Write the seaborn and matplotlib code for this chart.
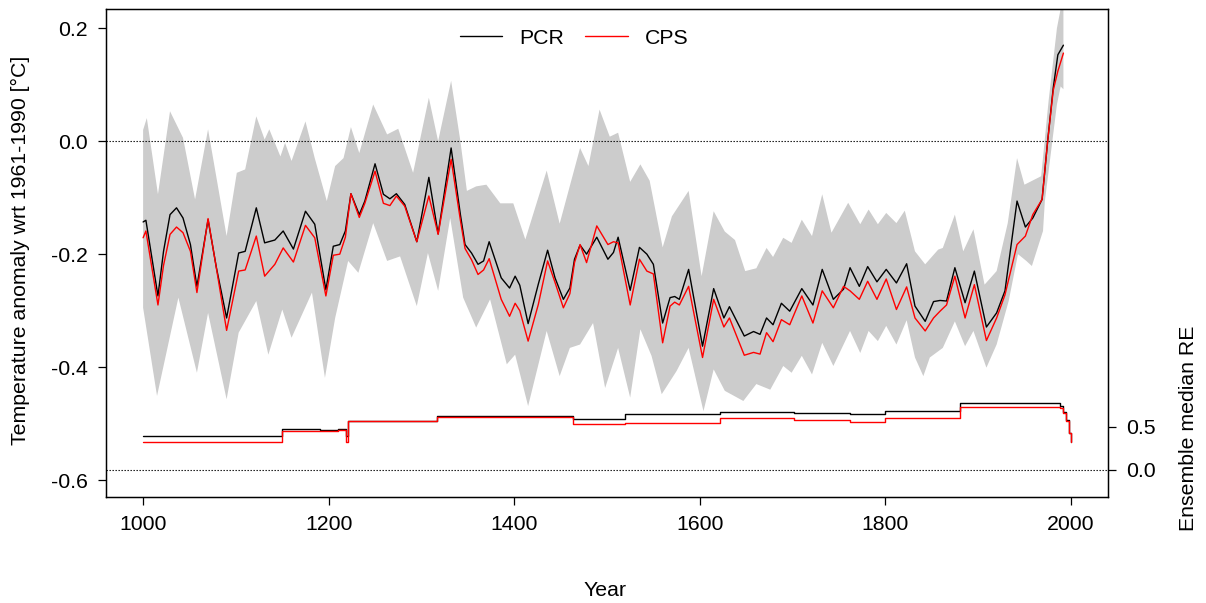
import numpy as np
import pandas as pd
import matplotlib
matplotlib.use('Agg')
import matplotlib.pyplot as plt
import seaborn as sns
from matplotlib.lines import Line2D

# reconstruction years and values
years = [1000, 1003, 1016, 1022, 1029, 1036, 1043, 1051, 1058, 1070, 1079, 1090,
         1103, 1110, 1122, 1131, 1142, 1151, 1162, 1175, 1185, 1197, 1205, 1212,
         1218, 1224, 1233, 1239, 1250, 1259, 1266, 1273, 1282, 1295, 1308, 1318,
         1332, 1342, 1347, 1354, 1361, 1367, 1373, 1386, 1395, 1401, 1406, 1415,
         1426, 1436, 1444, 1453, 1460, 1465, 1471, 1478, 1489, 1501, 1507, 1512,
         1525, 1535, 1543, 1550, 1560, 1568, 1573, 1578, 1588, 1603, 1615, 1626,
         1632, 1648, 1658, 1665, 1672, 1679, 1688, 1697, 1710, 1722, 1732, 1744,
         1755, 1762, 1772, 1781, 1791, 1801, 1812, 1823, 1832, 1843, 1852, 1859,
         1866, 1875, 1886, 1896, 1909, 1920, 1929, 1942, 1951, 1959, 1969, 1975,
         1981, 1986, 1992]
pcr = [-0.143, -0.140, -0.274, -0.195, -0.130, -0.118, -0.136, -0.183, -0.257, -0.139, -0.224, -0.313,
       -0.198, -0.195, -0.118, -0.180, -0.175, -0.159, -0.191, -0.124, -0.147, -0.263, -0.186, -0.183,
       -0.159, -0.093, -0.130, -0.106, -0.040, -0.094, -0.102, -0.093, -0.112, -0.178, -0.064, -0.164,
       -0.012, -0.130, -0.183, -0.198, -0.218, -0.212, -0.178, -0.242, -0.260, -0.239, -0.255, -0.323,
       -0.253, -0.193, -0.242, -0.280, -0.260, -0.209, -0.184, -0.200, -0.170, -0.209, -0.197, -0.170,
       -0.264, -0.188, -0.200, -0.218, -0.322, -0.277, -0.275, -0.280, -0.227, -0.363, -0.261, -0.313,
       -0.293, -0.345, -0.337, -0.342, -0.313, -0.325, -0.287, -0.301, -0.261, -0.290, -0.227, -0.280,
       -0.262, -0.224, -0.257, -0.222, -0.249, -0.227, -0.251, -0.217, -0.292, -0.319, -0.284, -0.282,
       -0.283, -0.224, -0.286, -0.230, -0.329, -0.304, -0.265, -0.106, -0.152, -0.136, -0.103, 0.000,
       0.094, 0.153, 0.170]
cps = [-0.171, -0.159, -0.290, -0.220, -0.165, -0.152, -0.162, -0.195, -0.268, -0.137, -0.225, -0.335,
       -0.230, -0.228, -0.168, -0.239, -0.218, -0.189, -0.214, -0.149, -0.171, -0.274, -0.202, -0.200,
       -0.170, -0.093, -0.135, -0.110, -0.053, -0.110, -0.114, -0.097, -0.115, -0.178, -0.097, -0.165,
       -0.032, -0.140, -0.190, -0.210, -0.236, -0.228, -0.208, -0.280, -0.310, -0.287, -0.300, -0.354,
       -0.289, -0.212, -0.250, -0.295, -0.270, -0.215, -0.183, -0.215, -0.150, -0.183, -0.178, -0.180,
       -0.290, -0.209, -0.230, -0.235, -0.357, -0.292, -0.285, -0.290, -0.257, -0.383, -0.280, -0.329,
       -0.313, -0.379, -0.374, -0.377, -0.339, -0.355, -0.316, -0.325, -0.274, -0.322, -0.265, -0.295,
       -0.257, -0.265, -0.280, -0.248, -0.280, -0.244, -0.298, -0.258, -0.313, -0.336, -0.313, -0.301,
       -0.290, -0.239, -0.313, -0.254, -0.353, -0.313, -0.272, -0.183, -0.168, -0.130, -0.103, 0.000,
       0.090, 0.124, 0.156]

# ensemble spread (grey band)
band_up_years = [1000, 1004, 1016, 1029, 1043, 1056, 1070, 1090, 1101, 1110, 1122, 1131, 1136,
                 1148, 1153, 1160, 1175, 1185, 1198, 1207, 1216, 1224, 1233, 1248, 1263, 1275,
                 1291, 1308, 1318, 1332, 1342, 1349, 1359, 1370, 1385, 1399, 1412, 1435, 1449,
                 1471, 1480, 1492, 1503, 1512, 1525, 1536, 1546, 1560, 1570, 1588, 1602, 1615,
                 1627, 1638, 1649, 1661, 1672, 1679, 1690, 1699, 1710, 1721, 1732, 1742, 1760,
                 1773, 1782, 1792, 1801, 1812, 1821, 1832, 1843, 1857, 1862, 1875, 1884, 1895,
                 1907, 1920, 1932, 1942, 1950, 1968, 1976, 1985, 1992]
band_up = [0.020, 0.041, -0.094, 0.053, 0.006, -0.103, 0.021, -0.168, -0.056, -0.050, 0.044, 0.003, 0.021,
           -0.027, -0.003, -0.035, 0.035, -0.030, -0.106, -0.044, -0.030, 0.025, -0.021, 0.065, 0.012, 0.022,
           -0.056, 0.077, 0.000, 0.107, 0.000, -0.088, -0.080, -0.077, -0.110, -0.110, -0.174, -0.052, -0.146,
           -0.012, -0.044, 0.056, 0.008, 0.015, -0.072, -0.041, -0.070, -0.188, -0.133, -0.088, -0.239, -0.124,
           -0.160, -0.175, -0.230, -0.225, -0.189, -0.205, -0.171, -0.180, -0.139, -0.168, -0.094, -0.162, -0.109,
           -0.147, -0.121, -0.147, -0.127, -0.145, -0.123, -0.195, -0.218, -0.192, -0.189, -0.130, -0.195, -0.156,
           -0.254, -0.230, -0.145, -0.030, -0.077, -0.062, 0.071, 0.200, 0.260]
band_lo_years = [1000, 1015, 1038, 1058, 1070, 1090, 1103, 1122, 1135, 1150, 1160, 1182, 1196,
                 1207, 1221, 1232, 1248, 1263, 1277, 1295, 1307, 1318, 1331, 1345, 1359, 1374,
                 1392, 1401, 1415, 1435, 1449, 1460, 1471, 1485, 1498, 1512, 1525, 1536, 1548,
                 1559, 1575, 1588, 1604, 1615, 1627, 1647, 1661, 1676, 1690, 1699, 1710, 1721,
                 1732, 1744, 1762, 1773, 1782, 1792, 1801, 1812, 1823, 1832, 1841, 1848, 1862,
                 1875, 1886, 1895, 1909, 1920, 1933, 1943, 1952, 1958, 1970, 1972, 1985, 1989,
                 1992]
band_lo = [-0.295, -0.451, -0.277, -0.410, -0.304, -0.457, -0.339, -0.283, -0.378, -0.298, -0.348, -0.268, -0.419,
           -0.313, -0.212, -0.233, -0.145, -0.212, -0.204, -0.292, -0.198, -0.265, -0.136, -0.277, -0.330, -0.280,
           -0.395, -0.378, -0.469, -0.336, -0.416, -0.366, -0.360, -0.322, -0.437, -0.366, -0.454, -0.333, -0.380,
           -0.448, -0.407, -0.366, -0.478, -0.404, -0.442, -0.460, -0.430, -0.440, -0.398, -0.410, -0.380, -0.413,
           -0.357, -0.398, -0.336, -0.375, -0.336, -0.354, -0.327, -0.360, -0.317, -0.383, -0.416, -0.383, -0.366,
           -0.319, -0.363, -0.336, -0.401, -0.360, -0.283, -0.200, -0.212, -0.221, -0.159, -0.106, 0.065, 0.097,
           0.092]

# ensemble median RE (right axis)
re_years = [1000, 1150, 1191, 1210, 1219, 1221, 1317, 1463, 1519, 1622, 1702, 1762, 1800,
            1880, 1988, 1992, 1995, 1998, 2000]
re_pcr = [0.395, 0.477, 0.470, 0.475, 0.40, 0.570, 0.628, 0.590, 0.650, 0.674, 0.660, 0.650, 0.690,
          0.780, 0.740, 0.680, 0.580, 0.430, 0.330]
re_cps = [0.326, 0.453, 0.453, 0.460, 0.33, 0.570, 0.615, 0.535, 0.545, 0.600, 0.580, 0.555, 0.600,
          0.730, 0.720, 0.660, 0.570, 0.430, 0.330]

df = pd.DataFrame({'Year': years, 'PCR': pcr, 'CPS': cps})
re_df = pd.DataFrame({'Year': re_years, 'PCR': re_pcr, 'CPS': re_cps})

sns.set_style('ticks')
plt.rcParams['font.family'] = ['Liberation Sans', 'DejaVu Sans']
plt.rcParams['text.color'] = 'black'
plt.rcParams['axes.labelcolor'] = 'black'
FS = 15.3

fig = plt.figure(figsize=(12.06, 6.03), dpi=100)
ax = fig.add_axes([0.0879, 0.1758, 0.8308, 0.8092])

# grey band as one polygon
ax.fill(np.concatenate([band_up_years, band_lo_years[::-1]]),
        np.concatenate([band_up, band_lo[::-1]]),
        color='#cccccc', lw=0, zorder=1)
ax.axhline(0, color='black', ls=(0, (1.2, 1.5)), lw=0.8, zorder=2)
sns.lineplot(data=df, x='Year', y='PCR', color='black', lw=1, estimator=None, ax=ax, zorder=3)
sns.lineplot(data=df, x='Year', y='CPS', color='red', lw=1, estimator=None, ax=ax, zorder=4)

ax.set_xlim(960, 2040)
ax.set_ylim(-0.630, 0.234)
ax.set_xticks([1000, 1200, 1400, 1600, 1800, 2000])
ax.set_yticks([-0.6, -0.4, -0.2, 0.0, 0.2])
ax.set_yticklabels(['-0.6', '-0.4', '-0.2', '0.0', '0.2'])
ax.set_xlabel('')
ax.set_ylabel('')
ax.tick_params(direction='out', length=6, width=0.9, pad=7, colors='black', labelsize=FS)
for s in ax.spines.values():
    s.set_visible(True)
    s.set_color('black')
    s.set_linewidth(1)

# RE on a second axis
ax2 = ax.twinx()
ax2.set_ylim(-0.314, 5.36)
ax2.axhline(0, color='black', ls=(0, (1.2, 1.5)), lw=0.8)
sns.lineplot(data=re_df, x='Year', y='PCR', color='black', lw=1, estimator=None,
             drawstyle='steps-post', ax=ax2)
sns.lineplot(data=re_df, x='Year', y='CPS', color='red', lw=1, estimator=None,
             drawstyle='steps-post', ax=ax2)
ax2.set_yticks([0.0, 0.5])
ax2.set_yticklabels(['0.0', '0.5'])
ax2.set_ylabel('')
ax2.tick_params(direction='out', length=6, width=0.9, pad=7, colors='black', labelsize=FS)
for s in ax2.spines.values():
    s.set_color('black')

handles = [Line2D([], [], color='black', lw=1), Line2D([], [], color='red', lw=1)]
ax.legend(handles, ['PCR', 'CPS'], loc='center', bbox_to_anchor=(0.467, 0.94), ncol=2,
          frameon=False, handlelength=2.0, columnspacing=1.0, fontsize=FS)

fig.text(0.5017, 1 - 590 / 603, 'Year', ha='center', va='center', fontsize=FS)
fig.text(20 / 1206, 1 - 250 / 603, 'Temperature anomaly wrt 1961-1990 [°C]',
         rotation=90, ha='center', va='center', fontsize=FS)
fig.text(1188 / 1206, 1 - 428 / 603, 'Ensemble median RE',
         rotation=90, ha='center', va='center', fontsize=FS)

fig.savefig('out.png', dpi=100)
